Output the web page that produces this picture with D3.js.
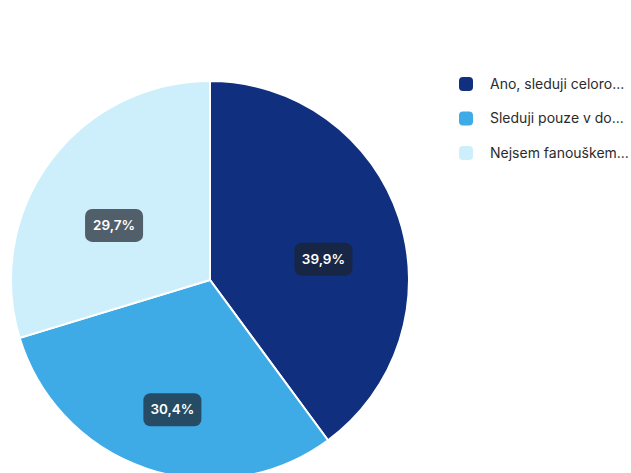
<!DOCTYPE html>
<html><head><meta charset="utf-8">
<script src="https://cdn.jsdelivr.net/npm/d3@7"></script>
<style>body{margin:0;background:#fff;font-family:Inter,"Noto Sans",sans-serif;}</style>
</head><body><svg id="c" width="631" height="473"></svg>
<script>
const categories = ["Ano, sleduji celoro...", "Sleduji pouze v do...", "Nejsem fanouškem..."];
const values = [39.9, 30.4, 29.7];
const labels = ["39,9%", "30,4%", "29,7%"];
const colors = ["#10307f", "#3eaae6", "#cdeffb"];

const svg = d3.select("#c");
const cx = 210, cy = 280, R = 199;
const pie = d3.pie().sort(null).value(d => d)(values);
const arc = d3.arc().innerRadius(0).outerRadius(R);
const labArc = d3.arc().innerRadius(R*0.6).outerRadius(R*0.6);
const g = svg.append("g").attr("transform", `translate(${cx},${cy})`);
g.selectAll("path").data(pie).join("path")
  .attr("d", arc).attr("fill", (d,i) => colors[i])
  .attr("stroke", "#fff").attr("stroke-width", 2);
const lg = g.selectAll("g.lab").data(pie).join("g").attr("class","lab")
  .attr("transform", d => { const c = labArc.centroid(d); return `translate(${c[0]},${c[1] + 16})`; });
lg.append("rect").attr("x", -29).attr("y", -16).attr("width", 58).attr("height", 33)
  .attr("rx", 7).attr("fill", "rgba(28,34,44,0.7)");
lg.append("text").text((d,i) => labels[i]).attr("text-anchor","middle").attr("dy","0.36em")
  .attr("fill","#fff").attr("font-size",13.5).attr("font-weight",600);

const leg = svg.append("g").attr("transform","translate(459,77)");
const rows = leg.selectAll("g").data(categories).join("g")
  .attr("transform", (d,i) => `translate(0,${i*34.5})`);
rows.append("rect").attr("width",14).attr("height",14).attr("rx",4).attr("fill",(d,i)=>colors[i]);
rows.append("text").text(d=>d).attr("x",31).attr("y",7).attr("dy","0.35em")
  .attr("font-size",14).attr("fill","#2b2b2b");
</script></body></html>
